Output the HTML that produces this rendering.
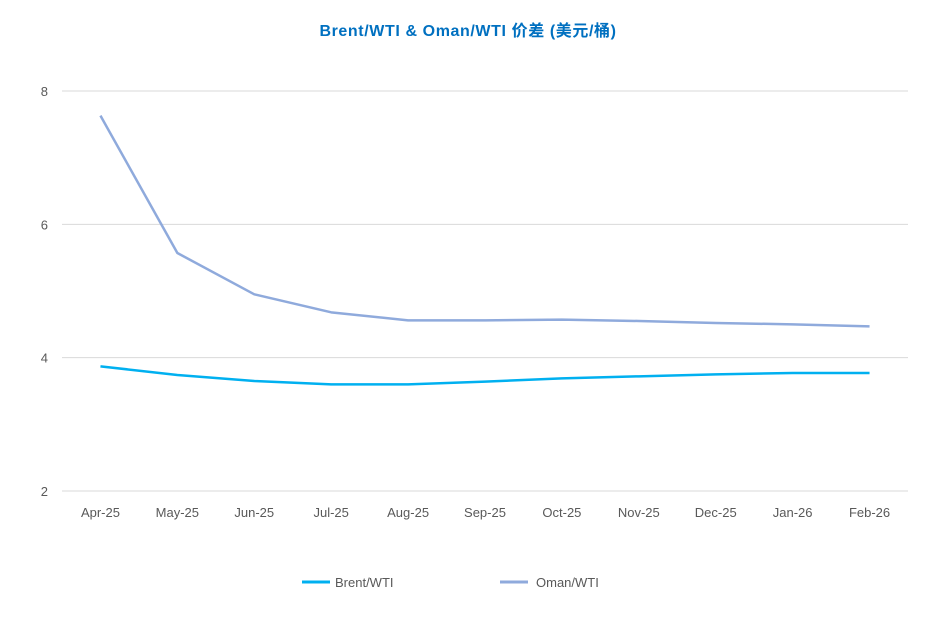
<!DOCTYPE html>
<html><head><meta charset="utf-8"><style>
body{margin:0;background:#fff;font-family:"Liberation Sans","Noto Sans CJK SC",sans-serif}
svg text{font-family:"Liberation Sans","Noto Sans CJK SC",sans-serif}
</style></head><body>
<svg id="chart" width="937" height="634">
<text x="468" y="36" text-anchor="middle" font-size="16" font-weight="bold" letter-spacing="0.6" fill="#0070c0">Brent/WTI &amp; Oman/WTI 价差 (美元/桶)</text>
<g id="grid"></g><g id="axes"></g><g id="series"></g>
<g>
<line x1="302" y1="582" x2="330" y2="582" stroke="#00b0f0" stroke-width="3"/>
<text x="335" y="587" font-size="13" fill="#595959">Brent/WTI</text>
<line x1="500" y1="582" x2="528" y2="582" stroke="#8faadc" stroke-width="3"/>
<text x="536" y="587" font-size="13" fill="#595959">Oman/WTI</text>
</g>
</svg>
<script>
const categories=["Apr-25","May-25","Jun-25","Jul-25","Aug-25","Sep-25","Oct-25","Nov-25","Dec-25","Jan-26","Feb-26"];
const brentValues=[3.87,3.74,3.65,3.60,3.60,3.64,3.69,3.72,3.75,3.77,3.77];
const omanValues=[7.63,5.57,4.95,4.68,4.56,4.56,4.57,4.55,4.52,4.50,4.47];
const yTicks=[2,4,6,8];
const NS="http://www.w3.org/2000/svg";
const x0=62,x1=908,yMin=2,yMax=8,py0=491,py1=91;
const step=(x1-x0)/categories.length;
const xs=i=>x0+step*(i+0.5);
const ys=v=>py0-(v-yMin)/(yMax-yMin)*(py0-py1);
function mk(t,a,p){const e=document.createElementNS(NS,t);for(const k in a)e.setAttribute(k,a[k]);p.appendChild(e);return e;}
const grid=document.getElementById('grid'),axes=document.getElementById('axes'),ser=document.getElementById('series');
yTicks.forEach(v=>{
 const l=mk('line',{x1:x0,x2:x1,y1:ys(v),y2:ys(v),stroke:'#d9d9d9','stroke-width':1},grid);
 
 
 const t=mk('text',{x:48,y:ys(v)+5,'text-anchor':'end','font-size':13,fill:'#595959'},axes);
 t.textContent=v;
 
 
});
categories.forEach((c,i)=>{
 const t=mk('text',{x:xs(i),y:517,'text-anchor':'middle','font-size':13,fill:'#595959'},axes);
 t.textContent=c;
 
 
});
function line(vals,color,name){
 const p=mk('polyline',{points:vals.map((v,i)=>xs(i)+','+ys(v)).join(' '),fill:'none',stroke:color,'stroke-width':2.5,'stroke-linejoin':'round'},ser);
 
 
}
line(omanValues,'#8faadc','oman-wti-line');
line(brentValues,'#00b0f0','brent-wti-line');
</script>
</body></html>
